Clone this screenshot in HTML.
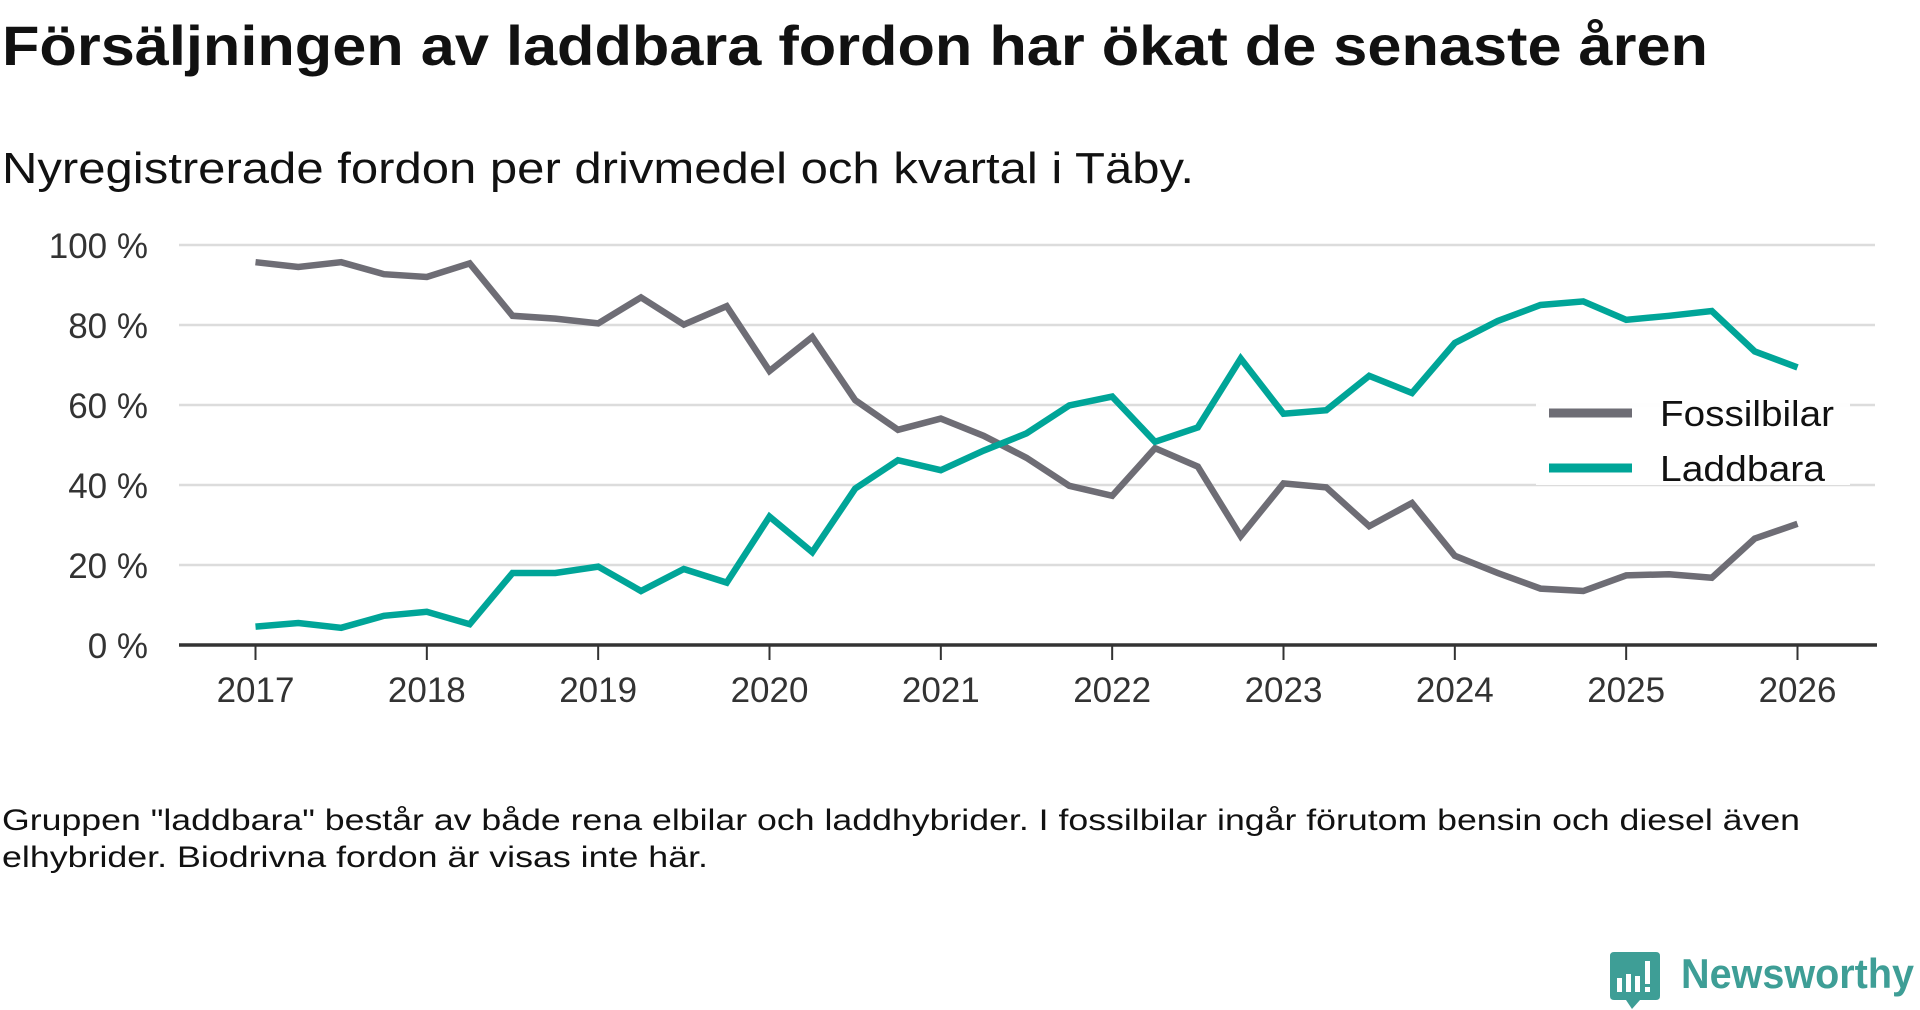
<!DOCTYPE html>
<html><head><meta charset="utf-8"><style>
html,body{margin:0;padding:0;background:#fff;width:1920px;height:1010px;overflow:hidden}
svg{display:block;font-family:"Liberation Sans","DejaVu Sans",sans-serif}
</style></head><body>
<svg id="chart" width="1920" height="1010" viewBox="0 0 1920 1010">
<text x="2" y="65" font-size="56" font-weight="bold" fill="#111" textLength="1706" lengthAdjust="spacingAndGlyphs">Försäljningen av laddbara fordon har ökat de senaste åren</text>
<text x="2" y="183" font-size="44" fill="#111" textLength="1192" lengthAdjust="spacingAndGlyphs">Nyregistrerade fordon per drivmedel och kvartal i Täby.</text>
<g id="grid"></g>
<g id="yaxis"></g>
<g id="xaxis"></g>
<g id="series"></g>
<g>
<rect x="1536" y="403" width="314" height="82" fill="#fff" opacity="0.95"/>
<g>
<line x1="1549" y1="413" x2="1632" y2="413" stroke="#6e6d75" stroke-width="9"/>
<text x="1660" y="426" font-size="36" fill="#111" textLength="174" lengthAdjust="spacingAndGlyphs">Fossilbilar</text>
</g>
<g>
<line x1="1549" y1="468" x2="1632" y2="468" stroke="#00a598" stroke-width="9"/>
<text x="1660" y="481" font-size="36" fill="#111" textLength="165" lengthAdjust="spacingAndGlyphs">Laddbara</text>
</g>
</g>
<text x="2" y="830" font-size="30" fill="#111" textLength="1798" lengthAdjust="spacingAndGlyphs">Gruppen "laddbara" består av både rena elbilar och laddhybrider. I fossilbilar ingår förutom bensin och diesel även</text>
<text x="2" y="867" font-size="30" fill="#111" textLength="706" lengthAdjust="spacingAndGlyphs">elhybrider. Biodrivna fordon är visas inte här.</text>
<g>
<path d="M1614 952 H1656 Q1660 952 1660 956 V996 Q1660 1000 1656 1000 H1640 L1632 1009 L1626 1000 H1614 Q1610 1000 1610 996 V956 Q1610 952 1614 952 Z" fill="#3e9e96"/>
<rect x="1617" y="978" width="5" height="14" fill="#fff"/>
<rect x="1626" y="974" width="5" height="18" fill="#fff"/>
<rect x="1635" y="976" width="5" height="16" fill="#fff"/>
<rect x="1645" y="961" width="5" height="23" fill="#fff"/>
<rect x="1645" y="987" width="5" height="5" fill="#fff"/>
<text x="1681" y="988" font-size="42" font-weight="bold" fill="#3e9e96" textLength="233" lengthAdjust="spacingAndGlyphs">Newsworthy</text>
</g>
</svg>
<script>
const years = [2017,2018,2019,2020,2021,2022,2023,2024,2025,2026];
const yTicks = [0,20,40,60,80,100];
const fossil = [95.7,94.5,95.7,92.7,92,95.4,82.3,81.6,80.4,86.9,80.1,84.7,68.5,77,61.2,53.8,56.6,52.3,46.8,39.8,37.3,49.2,44.6,27.2,40.4,39.4,29.7,35.5,22.3,18,14.1,13.5,17.4,17.7,16.8,26.6,30.3];
const laddbara = [4.6,5.5,4.3,7.3,8.3,5.2,18,18,19.6,13.5,19,15.6,32.1,23.2,39.1,46.2,43.7,48.6,52.9,59.9,62.1,50.8,54.4,71.6,57.8,58.7,67.3,63,75.5,81,85,85.9,81.3,82.3,83.5,73.4,69.4];
const NS='http://www.w3.org/2000/svg';
const X0=255.5, X1=1797.5, Y0=645, Y1=245;
function xs(t){return X0+(t-2017)/(2026-2017)*(X1-X0);}
function ys(v){return Y0+(v/100)*(Y1-Y0);}
function mk(tag,attrs,parent){const e=document.createElementNS(NS,tag);for(const k in attrs)e.setAttribute(k,attrs[k]);parent.appendChild(e);return e;}
const grid=document.getElementById('grid'), ya=document.getElementById('yaxis'), xa=document.getElementById('xaxis'), se=document.getElementById('series');
yTicks.forEach(v=>{
  if(v>0){const l=mk('line',{x1:179,x2:1875,y1:ys(v),y2:ys(v),stroke:'#dcdcdc','stroke-width':2.5},grid);
  
  }
  const t=mk('text',{x:148,y:ys(v)+13,'font-size':35,fill:'#333','text-anchor':'end'},ya);
  t.textContent=v+' %';
  
  
});
const ax=mk('line',{x1:179,x2:1877,y1:Y0,y2:Y0,stroke:'#333','stroke-width':3.5},xa);


years.forEach(y=>{
  const tk=mk('line',{x1:xs(y),x2:xs(y),y1:Y0,y2:Y0+15,stroke:'#333','stroke-width':2},xa);
  
  
  const t=mk('text',{x:xs(y),y:702,'font-size':35,fill:'#333','text-anchor':'middle'},xa);
  t.textContent=y;
  
  
});
function line(vals,color,name){
  const pts=vals.map((v,i)=>xs(2017+i/4).toFixed(1)+','+ys(v).toFixed(1)).join(' ');
  const p=mk('polyline',{points:pts,fill:'none',stroke:color,'stroke-width':6.5,'stroke-linejoin':'miter'},se);
  
  
}
line(fossil,'#6e6d75','line-fossilbilar');
line(laddbara,'#00a598','line-laddbara');
</script>
</body></html>
